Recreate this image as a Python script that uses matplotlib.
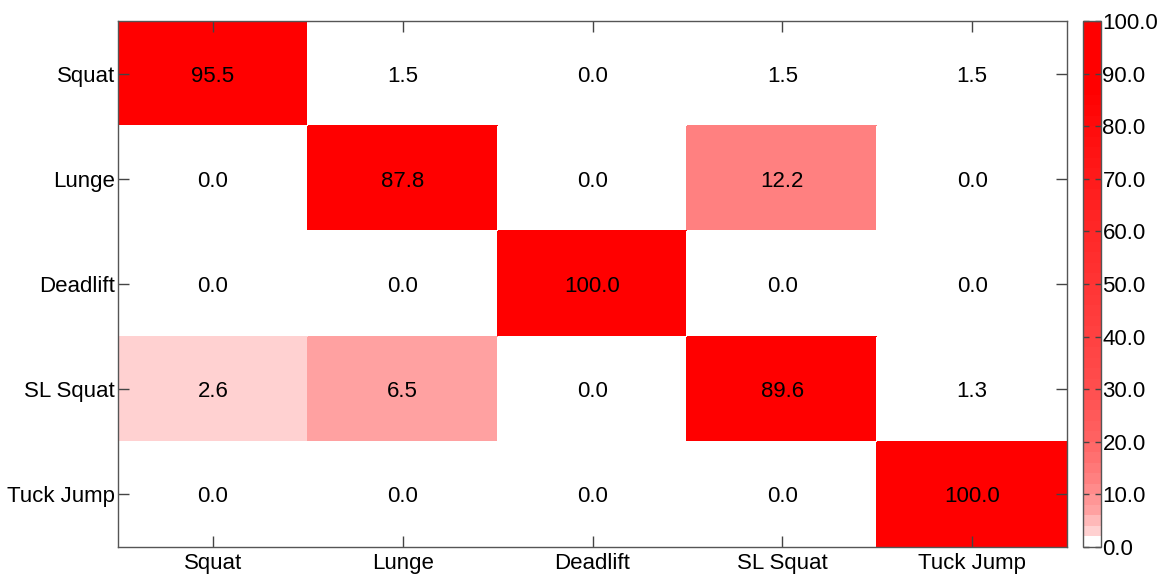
import numpy as np
import matplotlib
matplotlib.use("Agg")
import matplotlib.pyplot as plt
from matplotlib.colors import ListedColormap, BoundaryNorm

plt.rcParams['font.family'] = ['Liberation Sans', 'DejaVu Sans']

row_labels = ["Squat", "Lunge", "Deadlift", "SL Squat", "Tuck Jump"]
col_labels = ["Squat", "Lunge", "Deadlift", "SL Squat", "Tuck Jump"]
squat_row = [95.5, 1.5, 0.0, 1.5, 1.5]
lunge_row = [0.0, 87.8, 0.0, 12.2, 0.0]
deadlift_row = [0.0, 0.0, 100.0, 0.0, 0.0]
slsquat_row = [2.6, 6.5, 0.0, 89.6, 1.3]
tuckjump_row = [0.0, 0.0, 0.0, 0.0, 100.0]
cbar_ticks = [0, 10, 20, 30, 40, 50, 60, 70, 80, 90, 100]

data = np.array([squat_row, lunge_row, deadlift_row, slsquat_row, tuckjump_row])

# banded white->red colormap with nonlinear ramp
nb = 50
anchor_v = [0, 2, 6, 12, 20, 30, 50, 70, 86, 100]
anchor_a = [0, 0.18, 0.37, 0.50, 0.62, 0.70, 0.80, 0.90, 1.0, 1.0]
edges = np.linspace(0, 100, nb + 1)
alphas = np.interp(edges[:-1], anchor_v, anchor_a)
alphas[0] = 0.0
colors = [(1.0, 1 - a, 1 - a) for a in alphas]
cmap = ListedColormap(colors)
norm = BoundaryNorm(edges, nb)

fig = plt.figure(figsize=(11.66, 5.74), dpi=100)
ax = fig.add_axes([118 / 1166, 1 - 547 / 574, (1067 - 118) / 1166, (547 - 21) / 574])
cax = fig.add_axes([1083 / 1166, 1 - 547 / 574, (1101 - 1083) / 1166, (547 - 21) / 574])

n = len(row_labels)
mesh = ax.pcolormesh(np.arange(n + 1), np.arange(n + 1), data, cmap=cmap, norm=norm,
                     edgecolor='face', linewidth=0.3)
ax.set_xlim(0, n)
ax.set_ylim(n, 0)
for i in range(n):
    for j in range(n):
        ax.text(j + 0.5, i + 0.5, f"{data[i, j]:.1f}", ha='center', va='center_baseline',
                fontsize=16, color='black')

ax.set_xticks(np.arange(n) + 0.5)
ax.set_xticklabels(col_labels, fontsize=16)
ax.set_yticks(np.arange(n) + 0.5)
ax.set_yticklabels(row_labels, fontsize=16)
ax.tick_params(direction='in', length=8, width=1, color='#444444', top=True, right=True)
ax.tick_params(axis='x', pad=4)
ax.tick_params(axis='y', pad=2)
for s in ax.spines.values():
    s.set_color('#555555')
    s.set_linewidth(1)

cb = fig.colorbar(mesh, cax=cax, ticks=cbar_ticks)
cb.ax.minorticks_off()
cb.ax.set_yticklabels([f"{t:.1f}" for t in cbar_ticks], fontsize=16)
cb.ax.tick_params(which='both', direction='in', length=4, width=1, color='#444444',
                  left=True, right=True, pad=1)
cb.ax.tick_params(which='minor', length=0)
cb.outline.set_edgecolor('#555555')
cb.outline.set_linewidth(1)

fig.savefig("out.png", dpi=100)
